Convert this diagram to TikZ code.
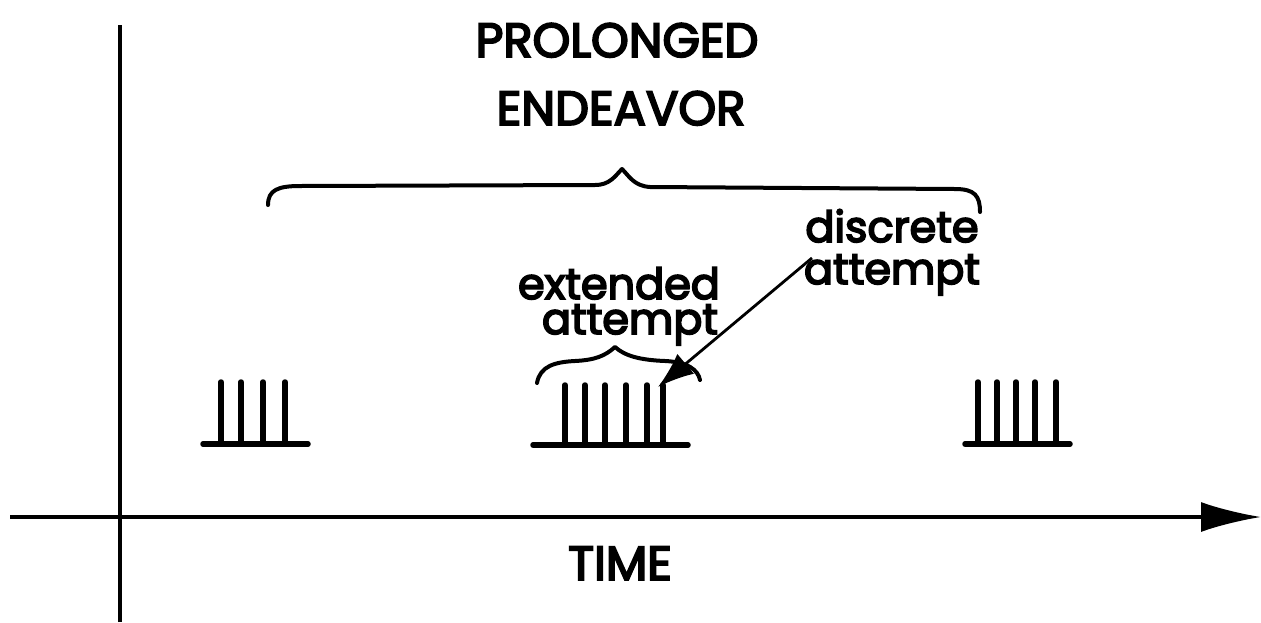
\documentclass[tikz,border=0pt]{standalone}
\usepackage{fontspec}
\setmainfont{Poppins}
\newfontfamily\lett{Poppins}[RawFeature={embolden=4}]
\usetikzlibrary{arrows.meta}
\begin{document}
\begin{tikzpicture}[x=1pt,y=-1pt,
  axis/.style={line width=3.2pt},
  spike/.style={line width=5.5pt,line cap=round},
  bracepath/.style={line width=4pt,line cap=round,line join=round},
  bigtxt/.style={font=\lett\fontsize{48}{50}\selectfont,inner sep=0pt,anchor=base},
  lbl/.style={font=\lett\fontsize{43}{44}\selectfont,inner sep=0pt,anchor=base}]
\useasboundingbox (0,0) rectangle (1261,622);
% axes
\coordinate (yb) at (120,622);
\coordinate (yt) at (120,25);
\coordinate (xl) at (10,517);
\coordinate (xr) at (1261,517);
\draw[axis] (yb) -- (yt);
\draw[axis,-{Latex[length=60pt,width=30pt]}] (xl) -- (xr);
% titles
\node[bigtxt] (t1) at (617,57) {PROLONGED};
\node[bigtxt] (t2) at (621,125) {ENDEAVOR};
\node[bigtxt] (time) at (620,580) {TIME};
% big brace
\draw[bracepath] (268,205) .. controls (268,190) and (278,186) .. (300,186)
  -- (595,185) .. controls (610,185) and (615,176) .. (622,169)
  .. controls (629,176) and (634,186) .. (650,187)
  -- (955,189) .. controls (975,189) and (980,196) .. (980,212);
% left group
\draw[spike] (203,444) -- (308,444);
\foreach \x in {221,241,263,285} \draw[spike] (\x,444) -- (\x,382);
% middle group
\draw[spike] (533,445) -- (688,445);
\foreach \x in {565,585,605,626,647,663} \draw[spike] (\x,445) -- (\x,385);
% right group
\draw[spike] (965,444) -- (1070,444);
\foreach \x in {978,997,1016,1035,1056} \draw[spike] (\x,444) -- (\x,382);
% small brace
\draw[bracepath] (537,383) .. controls (540,366) and (555,362) .. (575,361)
  .. controls (595,360) and (605,356) .. (615,347)
  .. controls (625,356) and (640,360) .. (665,361)
  .. controls (688,362) and (698,370) .. (700,380);
% labels
\node[lbl] (ext1) at (619,299) {extended};
\node[lbl] (ext2) at (630,334) {attempt};
\node[lbl] (disc1) at (892,242) {discrete};
\node[lbl] (disc2) at (892,284) {attempt};
\coordinate (tip) at (658,387);
\coordinate (astart) at (812,258);
\draw[line width=2.8pt,-{Latex[length=36pt,width=26pt]}] (astart) -- (tip);
\end{tikzpicture}
\end{document}
